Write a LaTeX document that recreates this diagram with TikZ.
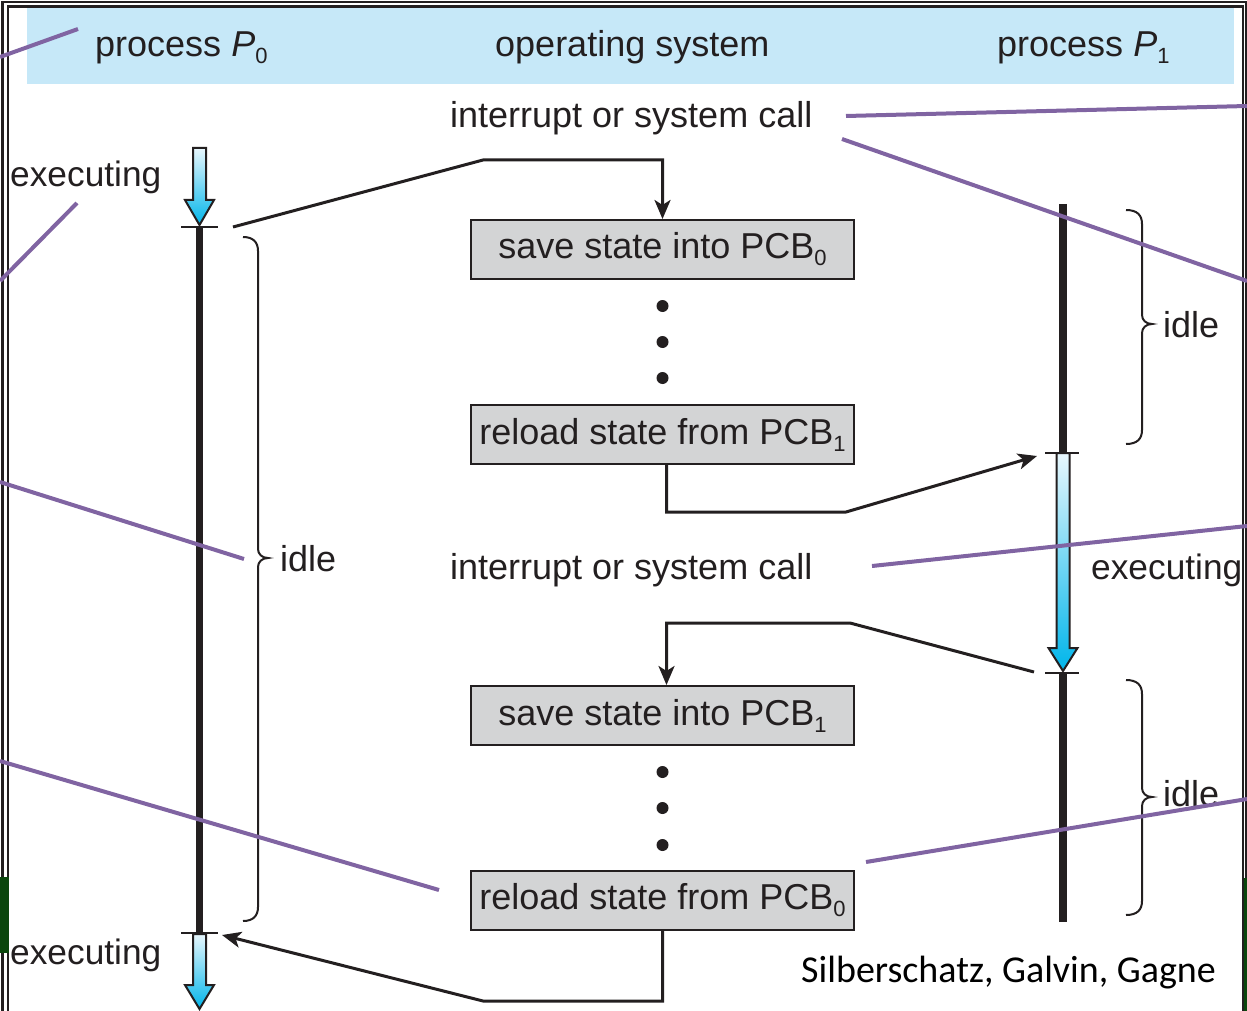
\documentclass[tikz,border=0pt]{standalone}
\usepackage{fontspec}
\setmainfont{Liberation Sans}
\newfontfamily\creditfont{Carlito}
\usetikzlibrary{arrows.meta}

\definecolor{ink}{RGB}{35,31,32}
\definecolor{bandblue}{RGB}{198,232,248}
\definecolor{boxgray}{RGB}{211,212,213}
\definecolor{notepurple}{RGB}{128,100,162}
\definecolor{arrowtop}{RGB}{232,247,253}
\definecolor{arrowbot}{RGB}{0,181,234}
\definecolor{slidegreen}{RGB}{10,70,12}

% lowered index digit, as in PCB_0
\newcommand\idx[1]{\raisebox{-7pt}{\fontsize{22}{22}\selectfont #1}}

% shaded "executing" arrow: centre x, top, start of head, tip
\newcommand\runarrow[4]{%
  \shade[top color=arrowtop, bottom color=arrowbot, draw=ink, line width=2pt, line join=miter]
    ({#1-6.5},#2) -- ({#1+6.5},#2) -- ({#1+6.5},#3) -- ({#1+14.5},#3) -- (#1,#4)
    -- ({#1-14.5},#3) -- ({#1-6.5},#3) -- cycle;}

% curly brace opening to the right: hook x, stem x, top, middle, bottom
\newcommand\idlebrace[5]{%
  \draw[bracepen] (#1,#3) .. controls ({#2-5},#3) and (#2,{#3+5}) .. (#2,{#3+14})
    -- (#2,{#4-9}) .. controls (#2,{#4-4}) and ({#2+4},#4) .. ({#2+10},#4)
    .. controls ({#2+4},#4) and (#2,{#4+4}) .. (#2,{#4+9})
    -- (#2,{#5-14}) .. controls (#2,{#5-5}) and ({#2-5},#5) .. (#1,#5);}

\begin{document}
\begin{tikzpicture}[x=1pt, y=-1pt,
  lbl/.style={font=\fontsize{36}{40}\selectfont, text=ink, inner sep=0pt, anchor=base west},
  execlbl/.style={lbl, font=\fontsize{35.3}{40}\selectfont},
  statebox/.style={draw=ink, line width=2pt, fill=boxgray, minimum width=383pt,
    minimum height=59pt, inner sep=0pt, font=\fontsize{36}{40}\selectfont, text=ink},
  flow/.style={draw=ink, line width=3pt, -{Stealth[length=19pt, width=16pt, inset=5pt]}},
  timebar/.style={draw=ink, line width=7.5pt},
  tickpen/.style={draw=ink, line width=2pt},
  bracepen/.style={draw=ink, line width=2pt},
  note/.style={draw=notepurple, line width=4pt},
  dot/.style={circle, fill=ink, inner sep=0pt, minimum size=12pt}]
\useasboundingbox (0,0) rectangle (1247,1011);

% double frame
\draw[ink, line width=2.4pt] (2.5,1011) -- (2.5,1.8) -- (1246,1.8) -- (1246,1011);
\draw[ink, line width=2.4pt] (8,1011) -- (8,6.5) -- (1242.7,6.5) -- (1242.7,1011);
\fill[slidegreen] (0,877) rectangle (8.5,953);
\fill[slidegreen] (1243.5,878) rectangle (1247,1011);

% header band
\fill[bandblue] (27,8) rectangle (1234,84);
\node[lbl] (hp0) at (95,57) {process \textit{P}\idx{0}};
\node[lbl] (hos) at (495,57) {operating system};
\node[lbl] (hp1) at (997,57) {process \textit{P}\idx{1}};

% labels
\node[lbl] (call1) at (450,128) {interrupt or system call};
\node[lbl] (call2) at (450,579) {interrupt or system call};
\node[execlbl] (exec0a) at (10,186) {executing};
\node[execlbl] (exec0b) at (10,964) {executing};
\node[execlbl] (exec1) at (1091,579) {executing};
\node[lbl] (idle0) at (280,571) {idle};
\node[lbl] (idle1a) at (1163,337) {idle};
\node[lbl] (idle1b) at (1163,806) {idle};
\node[font=\creditfont\fontsize{38}{40}\selectfont, text=black, inner sep=0pt, anchor=base west]
  (credit) at (801,982) {Silberschatz, Galvin, Gagne};

% operating system steps
\node[statebox] (save0) at (662.5,249.5) {save state into PCB\idx{0}};
\node[statebox] (reload1) at (662.5,434.5) {reload state from PCB\idx{1}};
\node[statebox] (save1) at (662.5,715.5) {save state into PCB\idx{1}};
\node[statebox] (reload0) at (662.5,900.5) {reload state from PCB\idx{0}};
\foreach \y/\n in {306/a,342/b,378/c,772/d,808/e,845/f}
  \node[dot] (dot\n) at (662.5,\y) {};

% process P0 timeline
\runarrow{199.5}{148}{200}{225}
\draw[timebar] (199.5,227) -- (199.5,933);
\draw[tickpen] (181,227) -- (218,227);
\draw[tickpen] (181,933) -- (218,933);
\runarrow{199.5}{934}{985}{1009}
\idlebrace{243}{258}{237}{558}{921}

% process P1 timeline
\draw[timebar] (1063,204) -- (1063,453);
\draw[tickpen] (1045,453) -- (1079,453);
\runarrow{1063}{453}{648}{671}
\draw[tickpen] (1045,673) -- (1079,673);
\draw[timebar] (1063,673) -- (1063,922);
\idlebrace{1126}{1142}{210}{324}{444}
\idlebrace{1126}{1142}{680}{797}{915}

% switch connectors
\coordinate (p0stop) at (233,227);
\coordinate (p1start) at (1037,456);
\coordinate (p1stop) at (1034,672);
\coordinate (p0resume) at (222,935);
\draw[flow] (p0stop) -- (483,160) -| (save0.north);
\draw[flow] ([xshift=4pt]reload1.south) |- (846,512) -- (p1start);
\draw[flow] (p1stop) -- (850,623) -| ([xshift=4pt]save1.north);
\draw[flow] (reload0.south) |- (483,1001) -- (p0resume);

% annotation leaders
\coordinate (la) at (0,57);
\coordinate (lb) at (0,281);
\coordinate (lc) at (0,482);
\coordinate (ld) at (0,761);
\coordinate (ra) at (1247,106);
\coordinate (rb) at (1247,281);
\coordinate (rc) at (1247,526);
\coordinate (rd) at (1247,799);
\draw[note] (la) -- (78,29);
\draw[note] (lb) -- (77,203);
\draw[note] (lc) -- (244,559);
\draw[note] (ld) -- (439,890);
\draw[note] (846,116) -- (ra);
\draw[note] (842,139) -- (rb);
\draw[note] (872,566) -- (rc);
\draw[note] (866,862) -- (rd);
\end{tikzpicture}
\end{document}
